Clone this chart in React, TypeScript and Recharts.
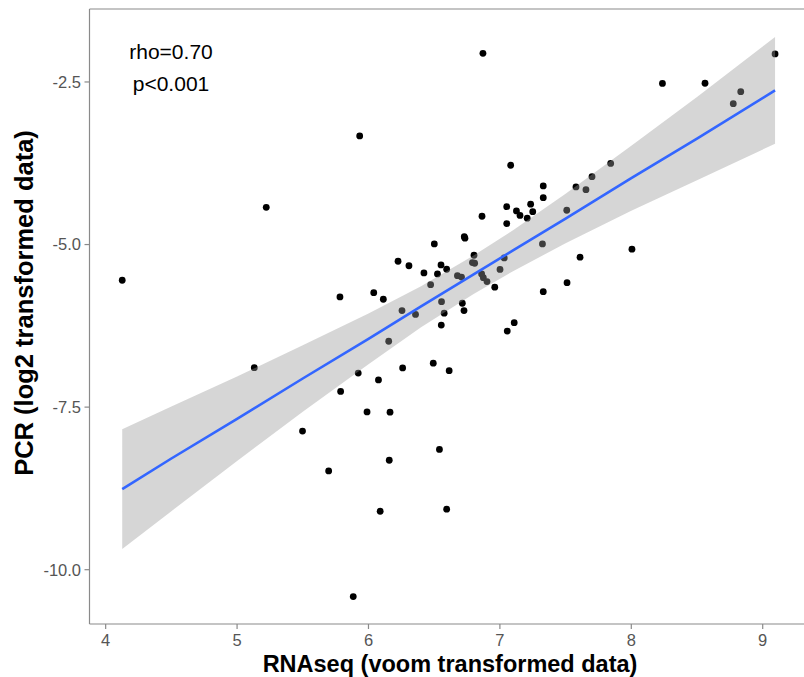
import React from "react";
import {
  ComposedChart,
  Scatter,
  Area,
  Line,
  XAxis,
  YAxis,
  ReferenceLine,
} from "recharts";

// RNAseq (voom) values, x
const rnaseq = [
  4.126, 5.131, 5.222, 5.498, 5.697, 5.783, 5.788, 5.884, 5.933, 5.922,
  5.989, 6.04, 6.076, 6.089, 6.113, 6.154, 6.158, 6.164, 6.225, 6.255,
  6.26, 6.308, 6.358, 6.422, 6.473, 6.493, 6.501, 6.525, 6.54, 6.552,
  6.556, 6.576, 6.554, 6.595, 6.595, 6.614, 6.677, 6.708, 6.714, 6.727,
  6.729, 6.734, 6.791, 6.808, 6.803, 6.861, 6.874, 6.902, 6.864, 6.871,
  6.961, 7.001, 7.033, 7.052, 7.052, 7.056, 7.082, 7.109, 7.126, 7.153,
  7.208, 7.234, 7.25, 7.33, 7.33, 7.324, 7.33, 7.509, 7.511, 7.579,
  7.61, 7.655, 7.701, 7.843, 8.005, 8.237, 8.561, 8.776, 8.833, 9.094,
];

// PCR (log2) values, y
const pcr = [
  -5.549, -6.893, -4.427, -7.869, -8.481, -5.806, -7.259, -10.414, -3.33, -6.977,
  -7.574, -5.74, -7.082, -9.101, -5.841, -6.487, -8.317, -7.577, -5.257, -6.016,
  -6.897, -5.326, -6.075, -5.437, -5.617, -6.825, -4.991, -5.452, -8.15, -5.314,
  -5.878, -6.056, -6.239, -5.38, -9.07, -6.94, -5.478, -5.501, -5.903, -6.016,
  -4.879, -4.902, -5.278, -5.288, -5.165, -5.452, -5.51, -5.57, -4.565, -2.059,
  -5.655, -5.383, -5.206, -4.417, -4.677, -6.331, -3.781, -6.201, -4.483, -4.553,
  -4.594, -4.38, -4.494, -4.099, -4.28, -4.991, -5.724, -4.473, -5.586, -4.114,
  -5.194, -4.156, -3.956, -3.752, -5.071, -2.523, -2.52, -2.834, -2.649, -2.069,
];

// fitted line and confidence band, read at several x positions
const bandX = [4.126, 4.5, 5, 5.5, 6, 6.4, 6.8, 7.1, 7.5, 8, 8.5, 9.094];
const fitY = [-8.76, -8.29, -7.68, -7.06, -6.45, -5.95, -5.46, -5.09, -4.6, -3.98, -3.37, -2.63];
const bandLow = [-9.68, -9.1, -8.33, -7.57, -6.84, -6.27, -5.76, -5.41, -4.98, -4.48, -4.01, -3.45];
const bandHigh = [-7.84, -7.49, -7.03, -6.55, -6.06, -5.64, -5.17, -4.78, -4.22, -3.48, -2.73, -1.81];

const xTicks = [4, 5, 6, 7, 8, 9];
const yTicks = [-10, -7.5, -5, -2.5];
const xDomain = [3.877, 9.35];
const yDomain = [-10.835, -1.378];

const xTitle = "RNAseq (voom transformed data)";
const yTitle = "PCR (log2 transformed data)";
const statRho = "rho=0.70";
const statP = "p<0.001";

const points = rnaseq.map((x, i) => ({ x, y: pcr[i] }));
const bandData = bandX.map((x, i) => ({
  x,
  fit: fitY[i],
  band: [bandLow[i], bandHigh[i]],
}));

const FONT = "'Liberation Sans', Arial, sans-serif";
const BORDER = "#8a8a8a";

const Dot = (props: any) => {
  const { cx, cy } = props;
  if (cx == null || cy == null) return null;
  return <circle cx={cx} cy={cy} r={3.4} fill="#000" />;
};

const XTitle = () => (
  <g>
    <text
      x={450}
      y={672}
      textAnchor="middle"
      fontFamily={FONT}
      fontWeight="bold"
      fontSize={23.5}
      fill="#000"
    >
      {xTitle}
    </text>
    <text x={171} y={58.5} textAnchor="middle" fontFamily={FONT} fontSize={21} fill="#000">
      {statRho}
    </text>
    <text x={171} y={90.5} textAnchor="middle" fontFamily={FONT} fontSize={21} fill="#000">
      {statP}
    </text>
  </g>
);

const YTitle = () => (
  <text
    x={0}
    y={0}
    transform="translate(33,303) rotate(-90)"
    textAnchor="middle"
    fontFamily={FONT}
    fontWeight="bold"
    fontSize={25.5}
    fill="#000"
  >
    {yTitle}
  </text>
);

export default function App() {
  return (
    <div
      style={{
        position: "absolute",
        left: 0,
        top: 0,
        width: 804,
        height: 677,
        overflow: "hidden",
        background: "#fff",
      }}
    >
      <ComposedChart
        width={812}
        height={677}
        data={bandData}
        margin={{ top: 9, right: 3.3, bottom: 23, left: 0 }}
      >
        <XAxis
          dataKey="x"
          type="number"
          domain={xDomain}
          ticks={xTicks}
          allowDataOverflow
          height={30}
          axisLine={false}
          tickLine={{ stroke: BORDER, strokeWidth: 1.2 }}
          tickSize={5}
          tickMargin={5}
          tick={{ fill: "#555", fontSize: 16.5, fontFamily: FONT }}
          label={<XTitle />}
        />
        <YAxis
          type="number"
          domain={yDomain}
          ticks={yTicks}
          allowDataOverflow
          width={89.5}
          axisLine={false}
          tickLine={{ stroke: BORDER, strokeWidth: 1.2 }}
          tickSize={5}
          tickMargin={3.5}
          tickFormatter={(v: number) => v.toFixed(1)}
          tick={{ fill: "#555", fontSize: 16.5, fontFamily: FONT }}
          label={<YTitle />}
        />
        <Scatter
          data={points}
          dataKey="y"
          shape={<Dot />}
          isAnimationActive={false}
          zIndex={50}
        />
        <Area
          dataKey="band"
          type="linear"
          stroke="none"
          fill="#999999"
          fillOpacity={0.4}
          isAnimationActive={false}
          activeDot={false}
        />
        <Line
          dataKey="fit"
          type="linear"
          stroke="#3366FF"
          strokeWidth={2.6}
          dot={false}
          activeDot={false}
          isAnimationActive={false}
        />
        <ReferenceLine y={yDomain[1]} stroke={BORDER} strokeWidth={1.2} ifOverflow="visible" />
        <ReferenceLine y={yDomain[0]} stroke={BORDER} strokeWidth={1.2} ifOverflow="visible" />
        <ReferenceLine x={xDomain[0]} stroke={BORDER} strokeWidth={1.2} ifOverflow="visible" />
      </ComposedChart>
    </div>
  );
}
